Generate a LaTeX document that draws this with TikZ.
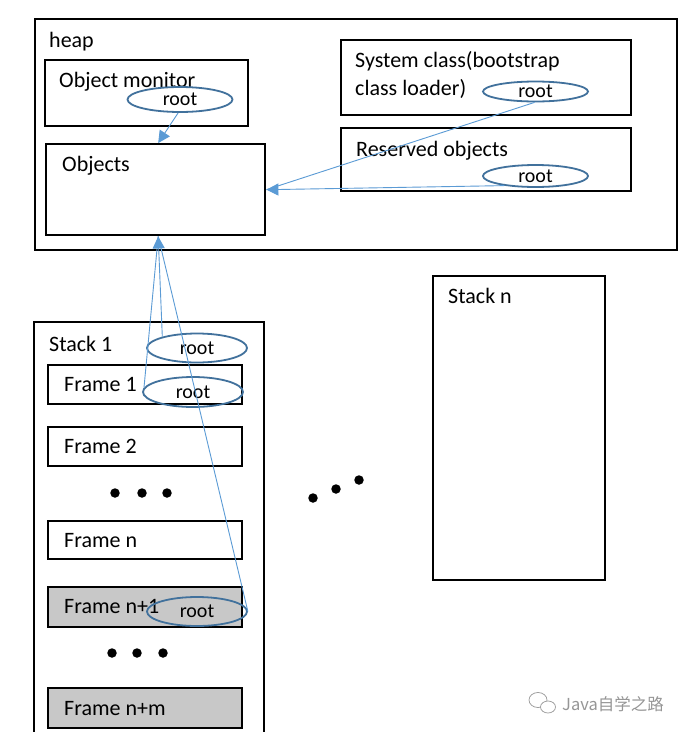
\documentclass[tikz,border=0pt]{standalone}
\usepackage{fontspec}
\setmainfont{Carlito}
\newfontfamily\cjkfont{Noto Sans CJK SC}
\usetikzlibrary{arrows.meta,calc,shapes.geometric}
\definecolor{connc}{RGB}{91,155,213}
\definecolor{rootc}{RGB}{65,113,156}
\definecolor{framegray}{RGB}{200,200,200}
\definecolor{wmc}{RGB}{150,150,150}
\begin{document}
\begin{tikzpicture}[x=1pt,y=-1pt,
  box/.style={draw=black, line width=2.4pt, rectangle, anchor=north west, inner sep=0pt},
  lbl/.style={anchor=base west, inner sep=0pt, font=\fontsize{22}{26}\selectfont},
  rootell/.style={draw=rootc, line width=1.8pt, ellipse, inner sep=0pt, font=\fontsize{20}{24}\selectfont},
  connline/.style={draw=connc, line width=0.9pt},
  tiphead/.style={-{Triangle[length=12pt,width=12pt]}},
  bigdot/.style={circle, fill=black, inner sep=0pt, minimum size=9.5pt}]
\useasboundingbox (0,0) rectangle (686,732);
\fill[white] (0,0) rectangle (686,732);

% heap
\node[box, minimum width=642pt, minimum height=231pt] (heap) at (34,18) {};
\node[lbl] (heapL) at (49,47) {heap};
\node[box, minimum width=203pt, minimum height=66pt] (objmon) at (44,59) {};
\node[lbl] (objmonL) at (59,87) {Object monitor};
\node[box, minimum width=219pt, minimum height=91pt] (objects) at (45,143) {};
\node[lbl] (objectsL) at (62,171) {Objects};
\node[box, minimum width=290pt, minimum height=75pt] (sysclass) at (340,39) {};
\node[lbl] (sysL1) at (355,67) {System class(bootstrap};
\node[lbl] (sysL2) at (355,95) {class loader)};
\node[box, minimum width=290pt, minimum height=63pt] (reserved) at (340,127) {};
\node[lbl] (resL) at (356,156) {Reserved objects};

% stack n
\node[box, minimum width=172pt, minimum height=304pt] (stackn) at (432,275) {};
\node[lbl] (stacknL) at (448,303) {Stack n};

% stack 1
\draw[line width=2.4pt] (34,733) -- (34,322) -- (264,322) -- (264,733);
\node[lbl] (stack1L) at (49,351) {Stack 1};
\node[box, minimum width=194pt, minimum height=39pt] (f1) at (47,364) {};
\node[lbl] (f1L) at (64,391) {Frame 1};
\node[box, minimum width=194pt, minimum height=39pt] (f2) at (47,426) {};
\node[lbl] (f2L) at (64,453) {Frame 2};
\node[box, minimum width=194pt, minimum height=38pt] (fn) at (47,520) {};
\node[lbl] (fnL) at (64,547) {Frame n};
\node[box, fill=framegray, minimum width=194pt, minimum height=40pt] (fn1) at (47,586) {};
\node[lbl] (fn1L) at (64,613) {Frame n+1};
\node[box, fill=framegray, minimum width=194pt, minimum height=40pt] (fnm) at (47,687) {};
\node[lbl] (fnmL) at (64,715) {Frame n+m};

% dots
\node[bigdot] (da1) at (115,493) {};
\node[bigdot] (da2) at (142,493) {};
\node[bigdot] (da3) at (167,493) {};
\node[bigdot] (db1) at (112,653) {};
\node[bigdot] (db2) at (137,653) {};
\node[bigdot] (db3) at (163,653) {};
\node[bigdot] (dc1) at (313,498) {};
\node[bigdot] (dc2) at (336,489) {};
\node[bigdot] (dc3) at (359,480) {};

% roots
\node[rootell, minimum width=105pt, minimum height=25pt] (omr) at (180,99.5) {root};
\node[rootell, minimum width=105pt, minimum height=20pt] (smr) at (535.5,91.5) {root};
\node[rootell, minimum width=105pt, minimum height=22pt] (rr) at (535.5,176) {root};
\node[rootell, minimum width=100pt, minimum height=29pt] (s1r) at (197,348) {root};
\node[rootell, minimum width=100pt, minimum height=30pt] (f1r) at (193,392) {root};
\node[rootell, minimum width=100pt, minimum height=29pt] (fnr) at (197,611.5) {root};

% connectors
\draw[connline,tiphead] (omr.262) -- ($(objects.north)+(2.5,0)$);
\draw[connline] (smr.265) -- (objects.east);
\draw[connline,tiphead] (rr.197) -- (objects.east);
\draw[connline] (f1r.175) -- ($(objects.south)+(2.5,0)$);
\draw[connline] (fnr.east) -- ($(objects.south)+(2.5,0)$);
\draw[connline,tiphead] (s1r.162) -- ($(objects.south)+(2.5,0)$);

% watermark
\draw[wmc, line width=0.7pt] (538,700) ellipse [x radius=9pt, y radius=7.5pt];
\draw[wmc, line width=0.7pt, fill=white] (548,707) ellipse [x radius=7.5pt, y radius=6pt];
\node[anchor=west, inner sep=0pt, text=wmc, font=\cjkfont\fontsize{16.5}{20}\selectfont] (wmtext) at (562,704) {Java自学之路};
\end{tikzpicture}
\end{document}
